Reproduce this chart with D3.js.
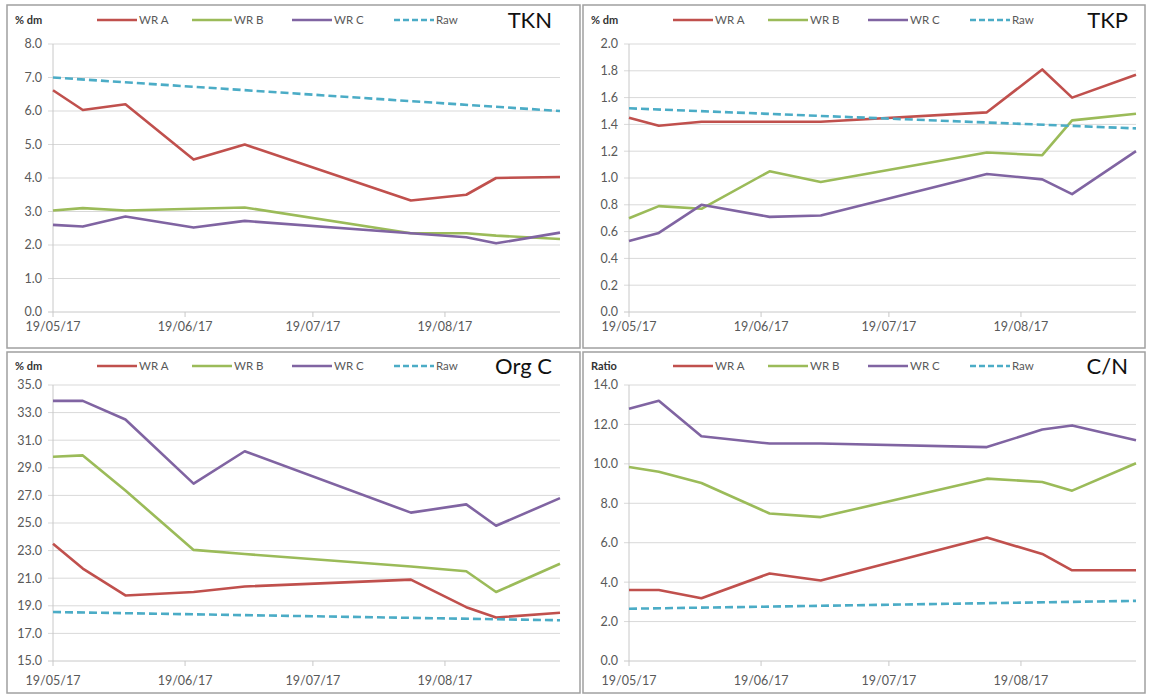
<!DOCTYPE html>
<html>
<head>
<meta charset="utf-8">
<script src="https://cdn.jsdelivr.net/npm/d3@7"></script>
<style>
  body { margin: 0; background: #fff; }
  svg { display: block; font-family: Lato, "Open Sans", sans-serif; }
</style>
</head>
<body>
<div id="chart"></div>
<script>
const width = 1149;
const height = 695;

// sampling dates (same for every panel)
const sampleDates = ["2017-05-19", "2017-05-26", "2017-06-05", "2017-06-21", "2017-07-03",
                     "2017-08-11", "2017-08-24", "2017-08-31", "2017-09-15"];
const rawDates = ["2017-05-19", "2017-09-15"];
const tickDates = ["2017-05-19", "2017-06-19", "2017-07-19", "2017-08-19"];

const seriesNames = ["WR A", "WR B", "WR C", "Raw"];
const seriesColors = ["#c0504d", "#9bbb59", "#8064a2", "#4bacc6"];

// TKN (% dm)
const tknA = [6.62, 6.03, 6.2, 4.55, 5.0, 3.33, 3.5, 4.0, 4.03];
const tknB = [3.03, 3.1, 3.03, 3.08, 3.12, 2.35, 2.35, 2.28, 2.18];
const tknC = [2.6, 2.55, 2.85, 2.52, 2.72, 2.35, 2.23, 2.05, 2.37];
const tknRaw = [7.0, 6.0];

// TKP (% dm)
const tkpA = [1.45, 1.39, 1.42, 1.42, 1.42, 1.49, 1.81, 1.6, 1.77];
const tkpB = [0.7, 0.79, 0.77, 1.05, 0.97, 1.19, 1.17, 1.43, 1.48];
const tkpC = [0.53, 0.59, 0.8, 0.71, 0.72, 1.03, 0.99, 0.88, 1.2];
const tkpRaw = [1.52, 1.37];

// Org C (% dm)
const orgA = [23.5, 21.7, 19.75, 20.0, 20.4, 20.9, 18.9, 18.15, 18.5];
const orgB = [29.8, 29.9, 27.35, 23.05, 22.75, 21.85, 21.5, 20.0, 22.05];
const orgC = [33.85, 33.85, 32.5, 27.85, 30.2, 25.75, 26.35, 24.8, 26.8];
const orgRaw = [18.55, 17.95];

// C/N (ratio)
const cnA = [3.6, 3.6, 3.18, 4.44, 4.08, 6.26, 5.43, 4.6, 4.6];
const cnB = [9.84, 9.6, 9.03, 7.48, 7.3, 9.25, 9.08, 8.64, 10.03];
const cnC = [12.8, 13.2, 11.4, 11.03, 11.03, 10.85, 11.74, 11.95, 11.2];
const cnRaw = [2.65, 3.05];

const parse = d3.timeParse("%Y-%m-%d");
const fmtDate = d3.timeFormat("%d/%m/%y");

// top row and bottom row plot boxes differ slightly
const rowBox = [
  { top: 44, bottom: 312, labelGap: 19 },
  { top: 39, bottom: 315, labelGap: 24 }
];

const panels = [
  { title: "TKN", ylabel: "% dm", ox: 0, oy: 0, row: 0, yMin: 0, yMax: 8, yStep: 1, series: [tknA, tknB, tknC, tknRaw] },
  { title: "TKP", ylabel: "% dm", ox: 576, oy: 0, row: 0, yMin: 0, yMax: 2, yStep: 0.2, series: [tkpA, tkpB, tkpC, tkpRaw] },
  { title: "Org C", ylabel: "% dm", ox: 0, oy: 346, row: 1, yMin: 15, yMax: 35, yStep: 2, series: [orgA, orgB, orgC, orgRaw] },
  { title: "C/N", ylabel: "Ratio", ox: 576, oy: 346, row: 1, yMin: 0, yMax: 14, yStep: 2, series: [cnA, cnB, cnC, cnRaw] }
];

const svg = d3.select("#chart").append("svg")
  .attr("width", width)
  .attr("height", height);

// panel frames (double lines between panels)
const frames = [[7, 5, 573, 343], [583, 5, 562, 343], [7, 352, 573, 341], [583, 352, 562, 341]];
svg.selectAll("rect.frame").data(frames).enter().append("rect")
  .attr("class", "frame")
  .attr("x", d => d[0]).attr("y", d => d[1])
  .attr("width", d => d[2]).attr("height", d => d[3])
  .attr("fill", "none").attr("stroke", "#a0a0a0").attr("stroke-width", 1.5);

panels.forEach(p => {
  const g = svg.append("g").attr("transform", `translate(${p.ox},${p.oy})`);
  const box = rowBox[p.row];
  const left = 53, right = 560, top = box.top, bottom = box.bottom;

  const x = d3.scaleTime()
    .domain([parse(sampleDates[0]), parse(sampleDates[sampleDates.length - 1])])
    .range([left, right]);
  const y = d3.scaleLinear().domain([p.yMin, p.yMax]).range([bottom, top]);
  const yTicks = d3.range(p.yMin, p.yMax + p.yStep / 2, p.yStep);

  // gridlines
  g.selectAll("line.grid").data(yTicks).enter().append("line")
    .attr("x1", left - 5).attr("x2", right)
    .attr("y1", d => y(d)).attr("y2", d => y(d))
    .attr("stroke", d => d === p.yMin ? "#c8c8c8" : "#d9d9d9")
    .attr("stroke-width", 1);

  // y axis line
  g.append("line")
    .attr("x1", left).attr("x2", left).attr("y1", top).attr("y2", bottom)
    .attr("stroke", "#c8c8c8");

  // y tick labels
  g.selectAll("text.ytick").data(yTicks).enter().append("text")
    .attr("x", left - 11).attr("y", d => y(d)).attr("dy", "0.35em")
    .attr("text-anchor", "end")
    .attr("font-size", 12.5).attr("fill", "#595959")
    .text(d => d3.format(".1f")(d));

  // x ticks + labels
  const xt = tickDates.map(parse);
  g.selectAll("line.xtick").data(xt).enter().append("line")
    .attr("x1", d => x(d)).attr("x2", d => x(d))
    .attr("y1", bottom).attr("y2", bottom + 5)
    .attr("stroke", "#c8c8c8");
  g.selectAll("text.xtick").data(xt).enter().append("text")
    .attr("x", d => x(d)).attr("y", bottom + box.labelGap)
    .attr("text-anchor", "middle")
    .attr("font-size", 12.5).attr("fill", "#595959")
    .text(d => fmtDate(d));

  // series lines
  const line = d3.line().x(d => x(d[0])).y(d => y(d[1]));
  p.series.forEach((vals, i) => {
    const ds = i === 3 ? rawDates : sampleDates;
    const pts = vals.map((v, k) => [parse(ds[k]), v]);
    g.append("path")
      .datum(pts)
      .attr("d", line)
      .attr("fill", "none")
      .attr("stroke", seriesColors[i])
      .attr("stroke-width", 2.6)
      .attr("stroke-linejoin", "round")
      .attr("stroke-dasharray", i === 3 ? "8,4" : null);
  });

  // axis title, legend, panel title
  g.append("text")
    .attr("x", 15).attr("y", 24)
    .attr("font-size", 11).attr("font-weight", "bold").attr("fill", "#333")
    .text(p.ylabel);

  const legendX = [97, 192, 292, 394];
  seriesNames.forEach((name, i) => {
    g.append("line")
      .attr("x1", legendX[i]).attr("x2", legendX[i] + 40)
      .attr("y1", 20).attr("y2", 20)
      .attr("stroke", seriesColors[i]).attr("stroke-width", 2.6)
      .attr("stroke-dasharray", i === 3 ? "6,3" : null);
    g.append("text")
      .attr("x", legendX[i] + 42).attr("y", 20).attr("dy", "0.35em")
      .attr("font-size", 11.5).attr("fill", "#595959")
      .text(name);
  });

  g.append("text")
    .attr("x", 552).attr("y", 28)
    .attr("text-anchor", "end")
    .attr("font-size", 22).attr("fill", "#111")
    .text(p.title);
});
</script>
</body>
</html>
